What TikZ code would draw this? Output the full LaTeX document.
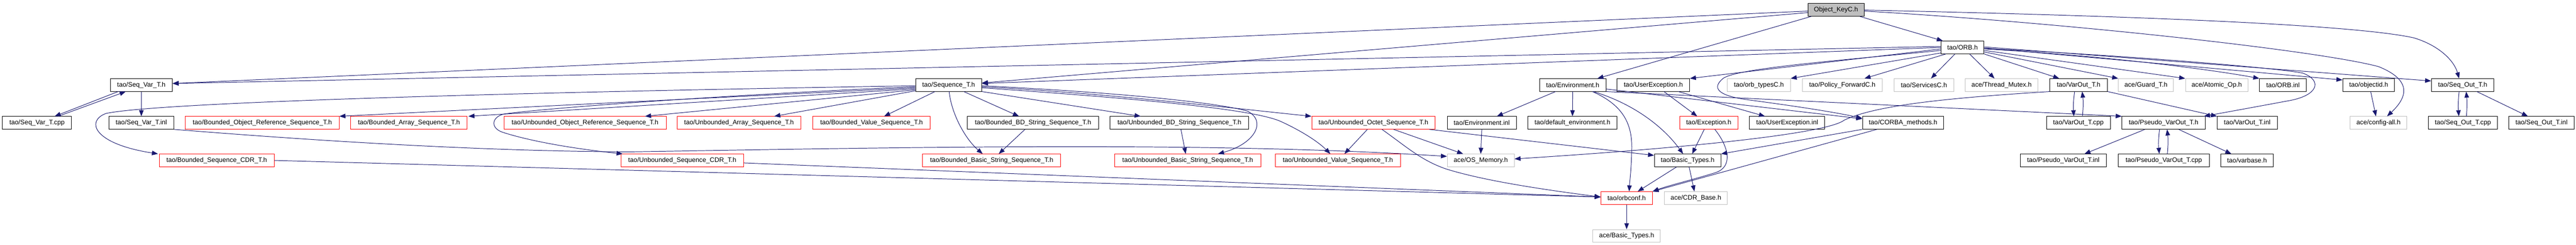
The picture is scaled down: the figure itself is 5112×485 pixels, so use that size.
\documentclass[tikz,border=0pt]{standalone}
\usepackage{fontspec}
\setmainfont{Liberation Sans}
\usetikzlibrary{arrows.meta}
\definecolor{dxblue}{RGB}{25,25,112}
\definecolor{dxgray}{RGB}{191,191,191}
\definecolor{dxred}{RGB}{255,0,0}
\newcommand\dxfont{\fontsize{13pt}{15pt}\selectfont}
\begin{document}
\begin{tikzpicture}[x=1pt,y=-1pt,
  nb/.style={draw=black, rectangle, inner sep=0pt, minimum height=25pt, font=\dxfont, line width=1pt},
  nr/.style={nb, draw=dxred},
  ng/.style={nb, draw=dxgray},
  e/.style={draw=dxblue, line width=1pt, -{Triangle[length=12pt,width=9pt]}}]
\fill[white] (0,0) rectangle (5112,485);
\useasboundingbox (0,0) rectangle (5112,485);
% row 0 and 1
\node[nb, fill=dxgray, minimum width=111pt] (okc) at (3643.5,19.5) {Object\_KeyC.h};
\node[nb, minimum width=85pt] (orb) at (3894.5,94) {tao/ORB.h};
% row 2
\node[nb, minimum width=123pt] (svh) at (280.5,168.5) {tao/Seq\_Var\_T.h};
\node[nb, minimum width=131pt] (seqt) at (1882.5,168.5) {tao/Sequence\_T.h};
\node[nb, minimum width=132pt] (envh) at (3121,168.5) {tao/Environment.h};
\node[nb, minimum width=144pt] (ueh) at (3281,168.5) {tao/UserException.h};
\node[ng, minimum width=125pt] (orbtypes) at (3490.5,168.5) {tao/orb\_typesC.h};
\node[ng, minimum width=158pt] (polfwd) at (3656,168.5) {tao/Policy\_ForwardC.h};
\node[ng, minimum width=118pt] (services) at (3818,168.5) {tao/ServicesC.h};
\node[ng, minimum width=144pt] (thrmutex) at (3972,168.5) {ace/Thread\_Mutex.h};
\node[nb, minimum width=114pt] (varouth) at (4125,168.5) {tao/VarOut\_T.h};
\node[ng, minimum width=109pt] (guard) at (4258.5,168.5) {ace/Guard\_T.h};
\node[ng, minimum width=124pt] (atomic) at (4399,168.5) {ace/Atomic\_Op.h};
\node[nb, minimum width=93pt] (orbinl) at (4530.5,168.5) {tao/ORB.inl};
\node[nb, minimum width=103pt] (objid) at (4700.5,168.5) {tao/objectid.h};
\node[nb, minimum width=124pt] (seqouth) at (4887,168.5) {tao/Seq\_Out\_T.h};
% row 3
\node[nb, minimum width=137pt] (svcpp) at (73.5,243.5) {tao/Seq\_Var\_T.cpp};
\node[nb, minimum width=129pt] (svinl) at (280.5,243.5) {tao/Seq\_Var\_T.inl};
\node[nr, minimum width=305pt] (bors) at (520.5,243.5) {tao/Bounded\_Object\_Reference\_Sequence\_T.h};
\node[nr, minimum width=231pt] (bas) at (811.5,243.5) {tao/Bounded\_Array\_Sequence\_T.h};
\node[nr, minimum width=322pt] (uors) at (1161,243.5) {tao/Unbounded\_Object\_Reference\_Sequence\_T.h};
\node[nr, minimum width=245pt] (uas) at (1466.5,243.5) {tao/Unbounded\_Array\_Sequence\_T.h};
\node[nr, minimum width=233pt] (bvs) at (1729.5,243.5) {tao/Bounded\_Value\_Sequence\_T.h};
\node[nb, minimum width=260pt] (bbds) at (2050,243.5) {tao/Bounded\_BD\_String\_Sequence\_T.h};
\node[nb, minimum width=275pt] (ubds) at (2340.5,243.5) {tao/Unbounded\_BD\_String\_Sequence\_T.h};
\node[nr, minimum width=245pt] (uos) at (2725.5,243.5) {tao/Unbounded\_Octet\_Sequence\_T.h};
\node[nb, minimum width=137pt] (envinl) at (2940.5,243.5) {tao/Environment.inl};
\node[nb, minimum width=177pt] (defenv) at (3120.5,243.5) {tao/default\_environment.h};
\node[nr, minimum width=116pt] (exch) at (3391,243.5) {tao/Exception.h};
\node[nb, minimum width=149pt] (ueinl) at (3546.5,243.5) {tao/UserException.inl};
\node[nb, minimum width=161pt] (corbam) at (3776.5,243.5) {tao/CORBA\_methods.h};
\node[nb, minimum width=127pt] (varoutcpp) at (4124.5,243.5) {tao/VarOut\_T.cpp};
\node[nb, minimum width=165pt] (pvoh) at (4293.5,243.5) {tao/Pseudo\_VarOut\_T.h};
\node[nb, minimum width=119pt] (varoutinl) at (4459.5,243.5) {tao/VarOut\_T.inl};
\node[ng, minimum width=112pt] (cfgall) at (4720,243.5) {ace/config-all.h};
\node[nb, minimum width=137pt] (socpp) at (4887.5,243.5) {tao/Seq\_Out\_T.cpp};
\node[nb, minimum width=129pt] (soinl) at (5043.5,243.5) {tao/Seq\_Out\_T.inl};
% row 4
\node[nr, minimum width=228pt] (bscdr) at (430,318) {tao/Bounded\_Sequence\_CDR\_T.h};
\node[nr, minimum width=244pt] (uscdr) at (1354,318) {tao/Unbounded\_Sequence\_CDR\_T.h};
\node[nr, minimum width=274pt] (bbss) at (1968,318) {tao/Bounded\_Basic\_String\_Sequence\_T.h};
\node[nr, minimum width=290pt] (ubss) at (2357,318) {tao/Unbounded\_Basic\_String\_Sequence\_T.h};
\node[nr, minimum width=248pt] (uvs) at (2655,318) {tao/Unbounded\_Value\_Sequence\_T.h};
\node[ng, minimum width=133pt] (osmem) at (2938.5,318) {ace/OS\_Memory.h};
\node[nb, minimum width=132pt] (tbt) at (3349,318) {tao/Basic\_Types.h};
\node[nb, minimum width=171pt] (pvoinl) at (4094.5,318) {tao/Pseudo\_VarOut\_T.inl};
\node[nb, minimum width=180pt] (pvocpp) at (4294,318) {tao/Pseudo\_VarOut\_T.cpp};
\node[nb, minimum width=104pt] (varbase) at (4459,318) {tao/varbase.h};
% row 5, 6
\node[nr, minimum width=102pt] (orbconf) at (3228,392.5) {tao/orbconf.h};
\node[ng, minimum width=125pt] (cdrbase) at (3365.5,392.5) {ace/CDR\_Base.h};
\node[ng, minimum width=134pt] (abt) at (3228,467.5) {ace/Basic\_Types.h};

% Object_KeyC.h
\draw[e] ([yshift=-2.5pt]okc.west) -- ([yshift=3pt]svh.east);
\draw[e] ([yshift=-5.5pt]okc.west) -- ([yshift=4pt]seqt.east);
\draw[e] ([xshift=7pt]okc.south west) -- ([xshift=49pt]envh.north);
\draw[e] ([xshift=-9pt]okc.south east) -- ([xshift=4pt]orb.north west);
\draw[e] ([yshift=-0.5pt]okc.east) .. controls (4400,35) and (4700,55) .. (4790,75) .. controls (4840,90) and (4870,120) .. ([xshift=-7pt]seqouth.north);
\draw[e] ([yshift=-2.5pt]okc.east) .. controls (4100,45) and (4600,100) .. (4720,132) .. controls (4790,160) and (4775,195) .. ([xshift=17pt]cfgall.north);
% ORB.h
\draw[e] ([yshift=2pt]orb.west) -- ([yshift=3pt]svh.east);
\draw[e] (orb.west) -- ([yshift=3pt]seqt.east);
\draw[e] ([yshift=-3pt]orb.west) -- (ueh.north east);
\draw[e] ([yshift=-11pt]orb.west) -- (orbtypes.north east);
\draw[e] ([yshift=-6pt]orb.west) .. controls (3650,120) and (3450,135) .. (3420,155) .. controls (3395,175) and (3410,190) .. (3470,198) .. controls (3560,210) and (3640,222) .. ([yshift=9pt]corbam.west);
\draw[e] ([xshift=10pt]orb.south west) -- ([xshift=44pt]polfwd.north);
\draw[e] ([xshift=-15pt]orb.south) -- ([xshift=14pt]services.north);
\draw[e] ([xshift=14pt]orb.south) -- ([xshift=-14pt]thrmutex.north);
\draw[e] (orb.south east) -- ([xshift=19pt]varouth.north west);
\draw[e] ([yshift=-9pt]orb.east) -- (guard.north west);
\draw[e] ([yshift=-6pt]orb.east) -- (atomic.north west);
\draw[e] ([yshift=-3pt]orb.east) .. controls (4200,112) and (4400,140) .. (orbinl.north west);
\draw[e] ([yshift=-1pt]orb.east) -- ([yshift=10pt]objid.west);
\draw[e] ([yshift=1pt]orb.east) -- ([yshift=8pt]seqouth.west);
\draw[e] ([yshift=-2pt]orb.east) .. controls (4250,112) and (4520,135) .. (4570,145) .. controls (4610,160) and (4600,190) .. (4540,200) .. controls (4470,213) and (4420,222) .. ([xshift=-3pt]pvoh.north east);
% Environment.h
\draw[e] ([xshift=-34pt]envh.south) -- ([xshift=30pt]envinl.north);
\draw[e] (envh.south) -- (defenv.north);
\draw[e] ([xshift=39pt]envh.south) .. controls (3225,210) and (3240,250) .. (3238,300) .. controls (3237,340) and (3234,360) .. ([xshift=5pt]orbconf.north);
\draw[e] ([xshift=41pt]envh.south) .. controls (3240,205) and (3300,250) .. ([xshift=-9pt]tbt.north);
\draw[e] ([yshift=-8pt]envh.east) -- ([yshift=8pt]corbam.west);
\draw[e] (envh.south east) -- ([yshift=13pt]pvoh.west);
% UserException.h
\draw[e] ([xshift=21pt]ueh.south) -- ([xshift=-23pt]exch.north);
\draw[e] ([xshift=-23pt]ueh.south east) -- ([xshift=31pt]ueinl.north west);
% Exception.h
\draw[e] ([xshift=-9pt]exch.south) -- ([xshift=9pt]tbt.north);
\draw[e] ([xshift=12pt]exch.south) .. controls (3430,290) and (3440,330) .. (3405,342) .. controls (3360,356) and (3310,368) .. (orbconf.north east);
% CORBA_methods.h
\draw[e] (corbam.south west) -- (tbt.north east);
\draw[e] ([xshift=29pt]corbam.south west) -- (orbconf.north east);
% Basic_Types.h, orbconf.h
\draw[e] ([xshift=-22pt]tbt.south) -- ([xshift=22pt]orbconf.north);
\draw[e] ([xshift=3pt]tbt.south) -- ([xshift=-3pt]cdrbase.north);
\draw[e] (orbconf.south) -- (abt.north);
% VarOut_T.h
\draw[e] (varouth.south west) .. controls (3850,195) and (3720,210) .. (3660,238) .. controls (3630,262) and (3400,290) .. ([yshift=3pt]osmem.east);
\draw[e] ([xshift=-8pt]varouth.south) to[bend right=6] ([xshift=-9pt]varoutcpp.north);
\draw[e] ([xshift=8pt]varoutcpp.north) to[bend right=6] ([xshift=7pt]varouth.south);
\draw[e] (varouth.south east) -- (varoutinl.north west);
% Pseudo_VarOut_T.h
\draw[e] ([xshift=-37pt]pvoh.south) -- ([xshift=42pt]pvoinl.north);
\draw[e] ([xshift=-8pt]pvoh.south) to[bend right=6] ([xshift=-9pt]pvocpp.north);
\draw[e] ([xshift=7pt]pvocpp.north) to[bend right=6] ([xshift=7pt]pvoh.south);
\draw[e] ([xshift=30pt]pvoh.south) -- ([xshift=-31pt]varbase.north);
% Seq_Var_T.h
\draw[e] ([xshift=-46pt]svh.south) -- ([xshift=35pt]svcpp.north);
\draw[e] ([xshift=42pt]svcpp.north) -- ([xshift=-31pt]svh.south);
\draw[e] (svh.south) -- (svinl.north);
\draw[e] (svinl.south east) .. controls (700,285) and (1000,300) .. (1250,301) .. controls (1800,292) and (2400,280) .. ([yshift=8pt]osmem.west);
% Sequence_T.h
\draw[e] ([yshift=-1.5pt]seqt.west) .. controls (900,185) and (300,205) .. (210,225) .. controls (170,240) and (185,285) .. ([xshift=-2pt]bscdr.north west);
\draw[e] ([yshift=-3.5pt]seqt.west) .. controls (1500,185) and (1100,212) .. (1000,226) .. controls (975,232) and (972,255) .. (1000,263) .. controls (1060,282) and (1150,296) .. ([xshift=4pt]uscdr.north west);
\draw[e] ([yshift=-5.5pt]seqt.west) -- (bors.north east);
\draw[e] ([yshift=-7.5pt]seqt.west) -- ([xshift=2pt]bas.north east);
\draw[e] ([yshift=-9.5pt]seqt.west) -- ([xshift=119pt]uors.north);
\draw[e] ([yshift=-11.5pt]seqt.west) -- ([xshift=70pt]uas.north);
\draw[e] ([xshift=-27pt]seqt.south) -- ([xshift=25pt]bvs.north);
\draw[e] ([xshift=1pt]seqt.south) .. controls (1888,225) and (1915,275) .. ([xshift=-18pt]bbss.north);
\draw[e] ([xshift=30pt]seqt.south) -- ([xshift=-28pt]bbds.north);
\draw[e] (seqt.south east) -- ([xshift=-77pt]ubds.north);
\draw[e] ([yshift=-1.5pt]seqt.east) .. controls (2250,185) and (2420,205) .. (2475,220) .. controls (2515,240) and (2490,285) .. ([xshift=60pt]ubss.north);
\draw[e] ([yshift=-3.5pt]seqt.east) .. controls (2200,185) and (2450,215) .. (uos.north west);
\draw[e] ([yshift=-5.5pt]seqt.east) .. controls (2250,195) and (2480,215) .. (2540,240) .. controls (2580,258) and (2615,280) .. ([xshift=-15pt]uvs.north);
% string sequences
\draw[e] ([xshift=-16pt]bbds.south) -- ([xshift=14pt]bbss.north);
\draw[e] ([xshift=3pt]ubds.south) -- ([xshift=-4pt]ubss.north);
% Unbounded_Octet_Sequence_T.h
\draw[e] ([xshift=-12pt]uos.south) -- ([xshift=13pt]uvs.north);
\draw[e] ([xshift=40pt]uos.south) -- ([xshift=-35pt]osmem.north);
\draw[e] ([xshift=17pt]uos.south) .. controls (2790,290) and (2820,318) .. (2870,335) .. controls (2950,360) and (3080,378) .. ([yshift=2pt]orbconf.west);
\draw[e] ([xshift=-12pt]uos.south east) -- ([yshift=10pt]tbt.west);
% Environment.inl, CDR sequences
\draw[e] (envinl.south) -- (osmem.north);
\draw[e] (bscdr.east) -- ([yshift=2pt]orbconf.west);
\draw[e] ([yshift=-5pt]uscdr.east) -- ([yshift=2pt]orbconf.west);
% Seq_Out_T.h, objectid.h
\draw[e] ([xshift=-7pt]seqouth.south) to[bend right=5] ([xshift=-8pt]socpp.north);
\draw[e] ([xshift=7pt]socpp.north) to[bend right=5] ([xshift=7pt]seqouth.south);
\draw[e] ([xshift=28pt]seqouth.south) -- ([xshift=-27pt]soinl.north);
\draw[e] ([xshift=4pt]objid.south) -- ([xshift=-5pt]cfgall.north);
\end{tikzpicture}
\end{document}
